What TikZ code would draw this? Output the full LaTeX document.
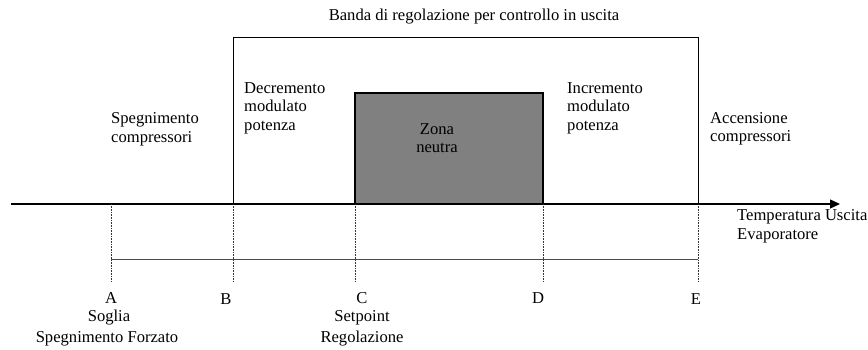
\documentclass[tikz,border=0pt]{standalone}
\usepackage{fontspec}
\setmainfont{Liberation Serif}
\usetikzlibrary{arrows.meta}

\begin{document}
\begin{tikzpicture}[x=1pt, y=-1pt, font=\fontsize{16.6}{18.4}\selectfont]
\tikzstyle{every node} = [inner sep=0pt]
\tikzstyle{txt} = [anchor=base west, align=left]
\tikzstyle{lbl} = [anchor=base, align=center]
\tikzstyle{tacca} = [black!80, line width=0.6pt, dash pattern=on 1pt off 0.6pt]
\useasboundingbox (0,0) rectangle (868,349);

% asse temperatura
\coordinate (start) at (11,204);
\coordinate (end) at (840,204);
\draw [line width=1.3pt, -{Triangle[length=10pt, width=9pt]}] (start) -- (end);

% punti A..E sull'asse
\foreach \p/\x in {a/111, b/233, c/355, d/543, e/698}
  \coordinate (\p) at (\x,204);

% banda di regolazione e zona neutra
\draw [line width=0.9pt] (b) -- (233,37) -- (698,37) -- (e);
\draw [line width=1.3pt, fill=black!50] (c) rectangle (543,93);

% tacche sotto l'asse
\foreach \p in {a, b, c, d, e}
  \draw [tacca] (\p) -- ++(0,77);
\draw [black!70, line width=0.8pt] ([yshift=-55pt]a) -- ([yshift=-55pt]e);

% testi
\node [lbl] (title) at (474,20) {Banda di regolazione per controllo in uscita};
\node [txt] (speg) at (111,142.3) {Spegnimento\\compressori};
\node [txt] (decr) at (244,130) {Decremento\\modulato\\potenza};
\node [lbl] (zona) at (437,152.7) {Zona\\neutra};
\node [txt] (incr) at (567,130) {Incremento\\modulato\\potenza};
\node [txt] (acc) at (710,141.7) {Accensione\\compressori};
\node [txt] (temp) at (737,239) {Temperatura Uscita\\Evaporatore};

\node [lbl] (la) at (111,303) {A};
\node [lbl] (lb) at (226,304) {B};
\node [lbl] (lc) at (362,303) {C};
\node [lbl] (ld) at (538,303) {D};
\node [lbl] (le) at (696,304) {E};
\node [lbl] (soglia) at (109,321) {Soglia};
\node [lbl] (forzato) at (107,342.3) {Spegnimento Forzato};
\node [lbl] (setp) at (362,321.7) {Setpoint};
\node [lbl] (regol) at (362,342) {Regolazione};
\end{tikzpicture}
\end{document}
